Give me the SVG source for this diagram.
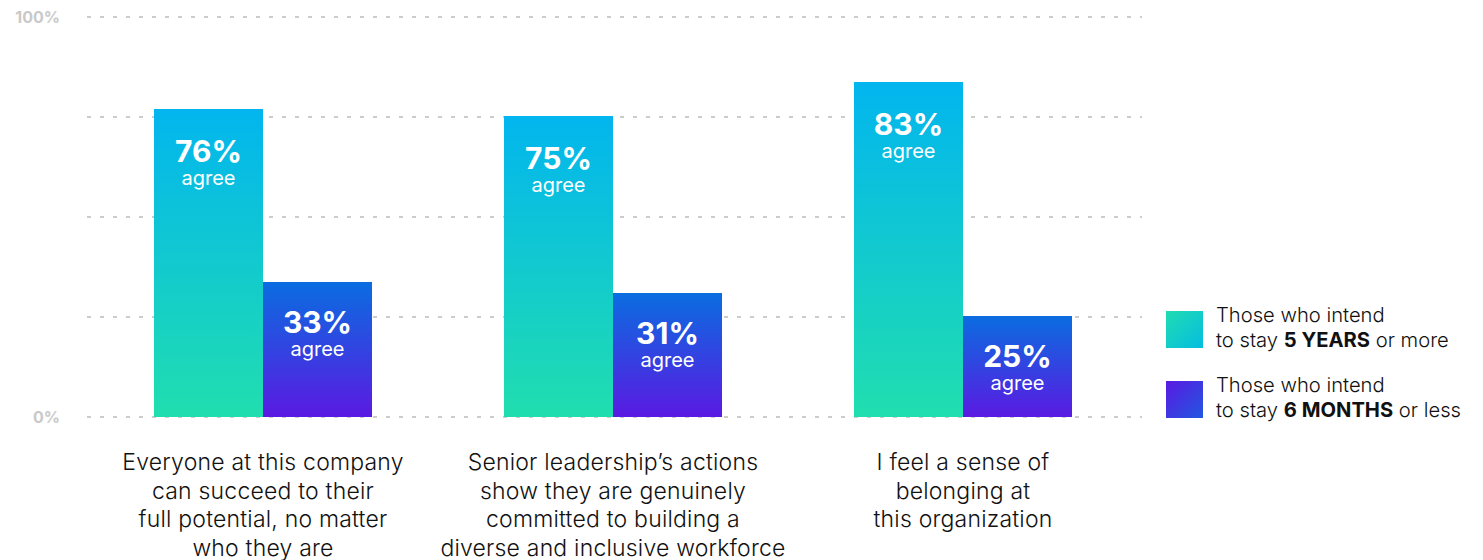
<svg xmlns="http://www.w3.org/2000/svg" width="1483" height="560" viewBox="0 0 1483 560">
<defs>
<linearGradient id="gA" x1="0" y1="0" x2="0" y2="1"><stop offset="0" stop-color="#02b5ee"/><stop offset="1" stop-color="#21deaf"/></linearGradient>
<linearGradient id="gB" x1="0" y1="0" x2="0" y2="1"><stop offset="0" stop-color="#0a6de0"/><stop offset="1" stop-color="#5a1ae2"/></linearGradient>
<linearGradient id="lA" x1="0" y1="0" x2="1" y2="1"><stop offset="0" stop-color="#20dcb2"/><stop offset="1" stop-color="#05bde0"/></linearGradient>
<linearGradient id="lB" x1="0" y1="0" x2="1" y2="1"><stop offset="0" stop-color="#5a1ae2"/><stop offset="1" stop-color="#2157e0"/></linearGradient>
<style>
.grid{stroke:#cccccc;stroke-width:1.8;stroke-dasharray:4 9}
.ax{font-family:Inter,"Liberation Sans",sans-serif;font-weight:700;font-size:16px;fill:#c9c9c9}
.pct{font-family:Inter,"Liberation Sans",sans-serif;font-weight:700;font-size:30px;fill:#fff;text-anchor:middle}
.ag{font-family:Inter,"Liberation Sans",sans-serif;font-weight:400;font-size:20px;fill:#fff;text-anchor:middle}
.cat{font-family:Inter,"Liberation Sans",sans-serif;font-weight:300;font-size:23px;letter-spacing:0.2px;fill:#111;text-anchor:middle}
.lg{font-family:Inter,"Liberation Sans",sans-serif;font-weight:300;font-size:20.2px;fill:#111}
.lg tspan.b{font-weight:700}
</style>
</defs>
<g id="axis">
<line class="grid" x1="87" y1="17" x2="1142" y2="17"/>
<line class="grid" x1="87" y1="117" x2="1142" y2="117"/>
<line class="grid" x1="87" y1="217" x2="1142" y2="217"/>
<line class="grid" x1="87" y1="317" x2="1142" y2="317"/>
<line class="grid" x1="87" y1="417" x2="1142" y2="417"/>
<text class="ax" x="60" y="23" text-anchor="end">100%</text>
<text class="ax" x="60" y="423" text-anchor="end">0%</text>
</g>
<g id="group1">
<rect x="154" y="109" width="109" height="308" fill="url(#gA)"/>
<text class="pct" x="208.5" y="162">76%</text>
<text class="ag" x="208.5" y="185">agree</text>
<rect x="263" y="282" width="109" height="135" fill="url(#gB)"/>
<text class="pct" x="317.5" y="333">33%</text>
<text class="ag" x="317.5" y="356">agree</text>
<text class="cat" x="263" y="470">Everyone at this company</text>
<text class="cat" x="263" y="498.5">can succeed to their</text>
<text class="cat" x="263" y="527">full potential, no matter</text>
<text class="cat" x="263" y="555.5">who they are</text>
</g>
<g id="group2">
<rect x="504" y="116" width="109" height="301" fill="url(#gA)"/>
<text class="pct" x="558.5" y="169">75%</text>
<text class="ag" x="558.5" y="192">agree</text>
<rect x="613" y="293" width="109" height="124" fill="url(#gB)"/>
<text class="pct" x="667.5" y="344">31%</text>
<text class="ag" x="667.5" y="367">agree</text>
<text class="cat" x="613" y="470">Senior leadership’s actions</text>
<text class="cat" x="613" y="498.5">show they are genuinely</text>
<text class="cat" x="613" y="527">committed to building a</text>
<text class="cat" x="613" y="555.5">diverse and inclusive workforce</text>
</g>
<g id="group3">
<rect x="854" y="82" width="109" height="335" fill="url(#gA)"/>
<text class="pct" x="908.5" y="135">83%</text>
<text class="ag" x="908.5" y="158">agree</text>
<rect x="963" y="316" width="109" height="101" fill="url(#gB)"/>
<text class="pct" x="1017.5" y="367">25%</text>
<text class="ag" x="1017.5" y="390">agree</text>
<text class="cat" x="963" y="470">I feel a sense of</text>
<text class="cat" x="963" y="498.5">belonging at</text>
<text class="cat" x="963" y="527">this organization</text>
</g>
<g id="legend">
<rect x="1166" y="311" width="37" height="37" fill="url(#lA)"/>
<text class="lg" x="1216" y="322">Those who intend</text>
<text class="lg" x="1216" y="347">to stay <tspan class="b">5 YEARS</tspan> or more</text>
<rect x="1166" y="381" width="37" height="37" fill="url(#lB)"/>
<text class="lg" x="1216" y="392">Those who intend</text>
<text class="lg" x="1216" y="417">to stay <tspan class="b">6 MONTHS</tspan> or less</text>
</g>
</svg>
